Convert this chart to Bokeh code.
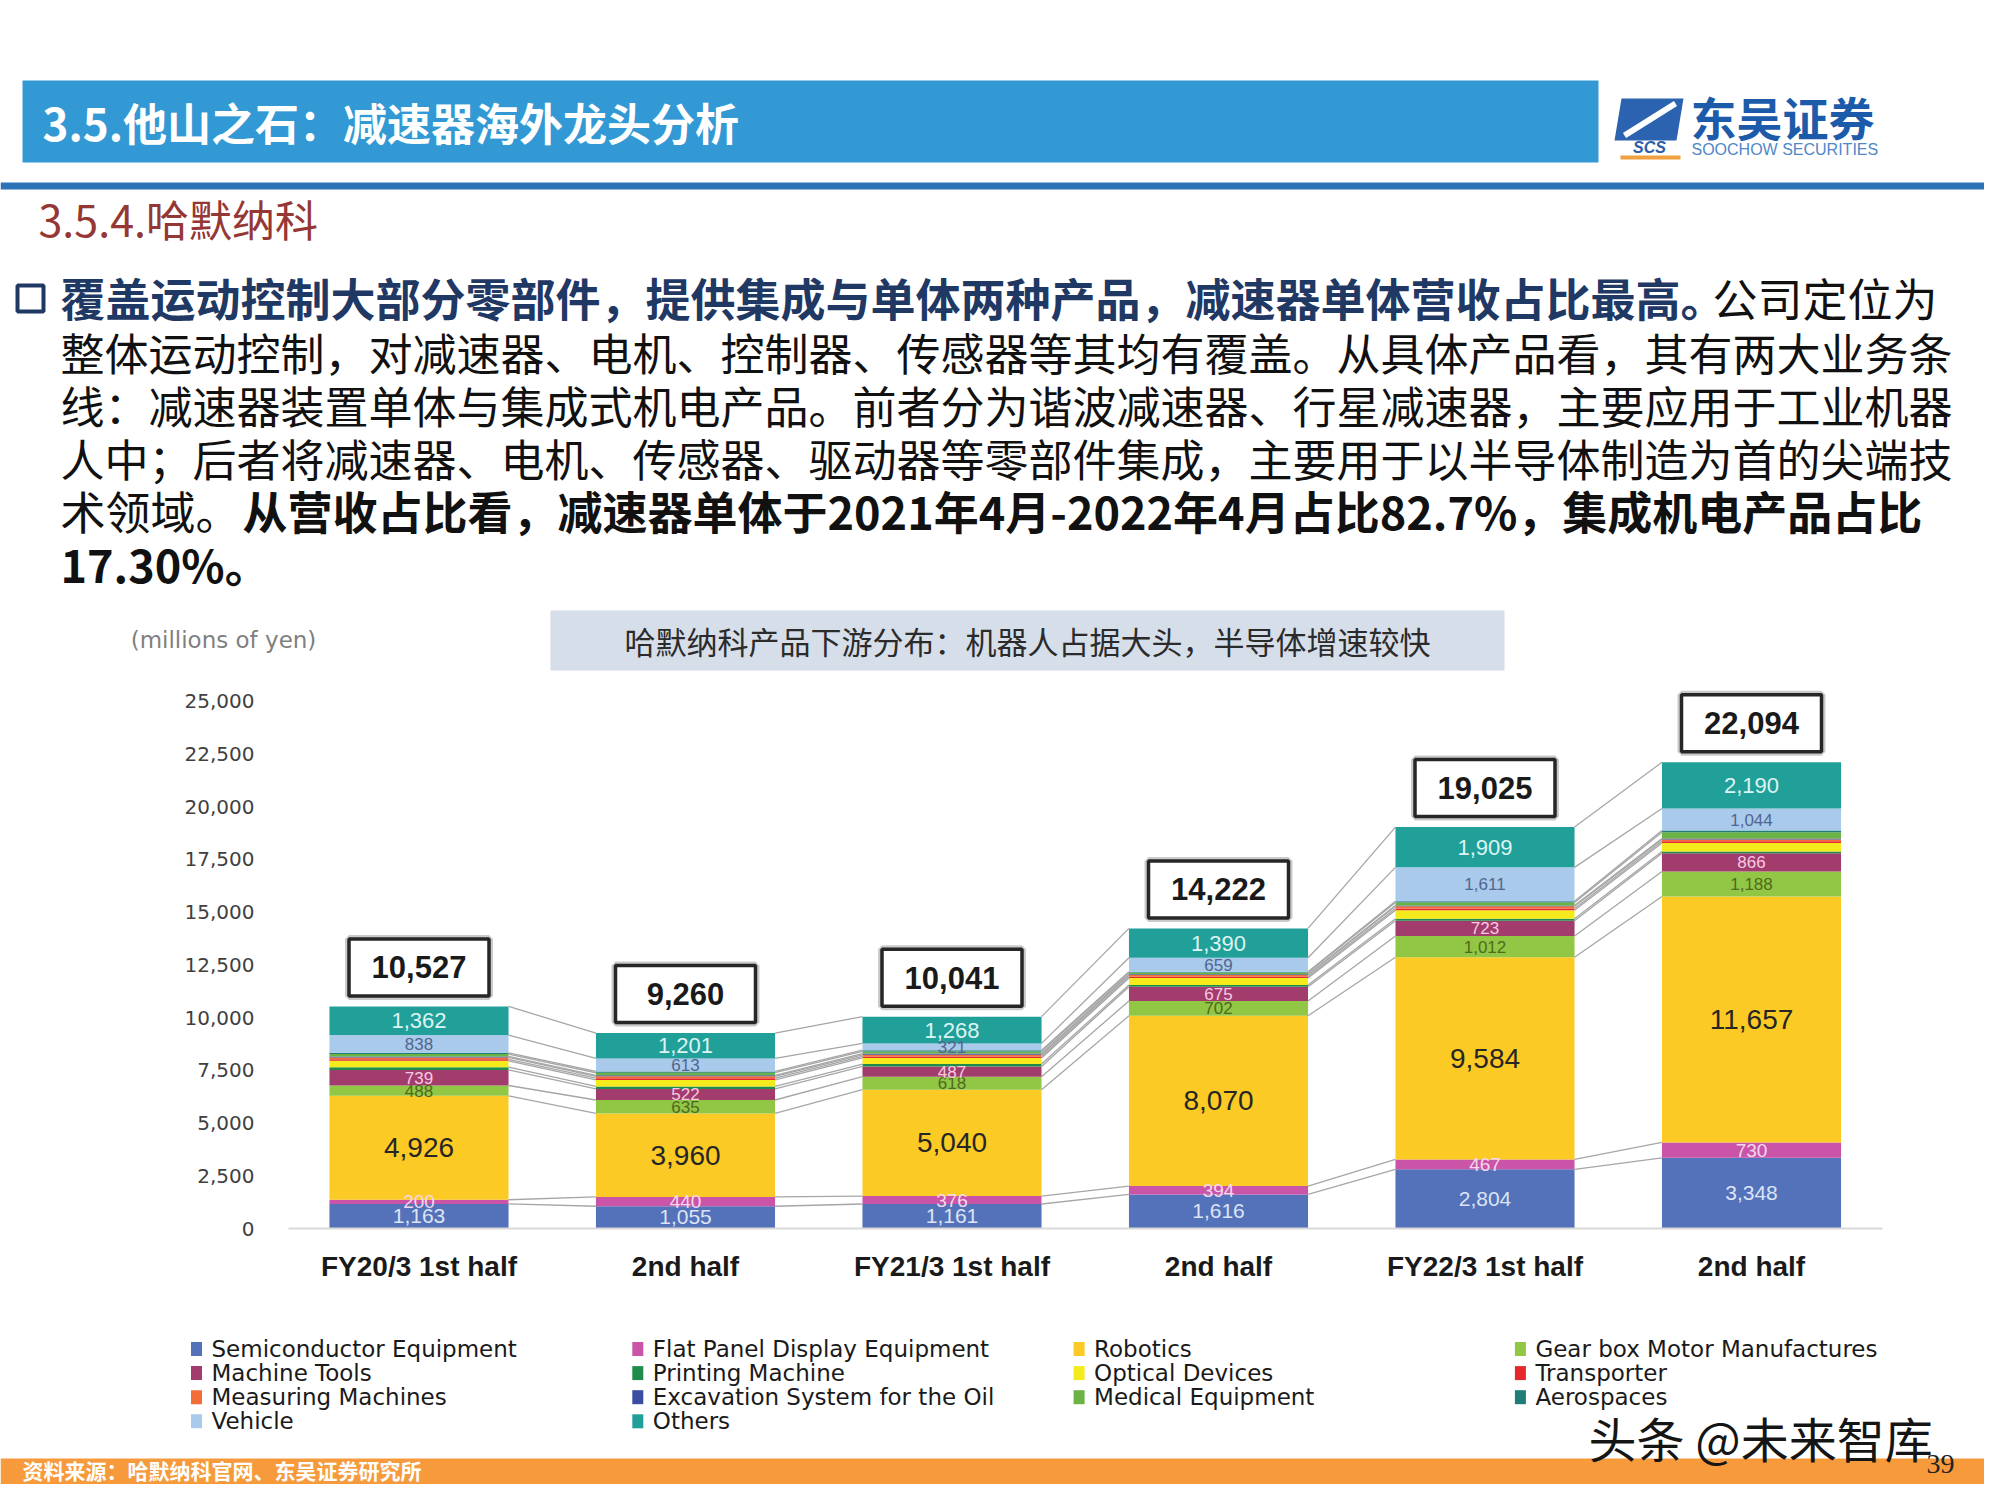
import numpy as np
from bokeh.plotting import figure
from bokeh.models import Range1d, LinearAxis, FixedTicker, NumeralTickFormatter, ColumnDataSource
from bokeh.core.properties import value
from bokeh.embed import file_html
from bokeh.resources import INLINE

# ---------------- data ----------------
periods = ["FY20/3 1st half", "2nd half", "FY21/3 1st half", "2nd half", "FY22/3 1st half", "2nd half"]
semiconductor = [1163, 1055, 1161, 1616, 2804, 3348]
flat_panel = [200, 440, 376, 394, 467, 730]
robotics = [4926, 3960, 5040, 8070, 9584, 11657]
gear_box = [488, 635, 618, 702, 1012, 1188]
machine_tools = [739, 522, 487, 675, 723, 866]
printing = [130, 120, 110, 80, 90, 80]
optical = [300, 310, 290, 330, 400, 400]
transporter = [70, 80, 70, 60, 90, 80]
measuring = [90, 90, 80, 90, 100, 90]
excavation = [50, 50, 60, 30, 35, 40]
medical = [110, 120, 100, 90, 150, 300]
aerospaces = [61, 64, 60, 36, 50, 81]
vehicle = [838, 613, 321, 659, 1611, 1044]
others = [1362, 1201, 1268, 1390, 1909, 2190]
totals = [10527, 9260, 10041, 14222, 19025, 22094]

categories = ["Semiconductor Equipment", "Flat Panel Display Equipment", "Robotics",
              "Gear box Motor Manufactures", "Machine Tools", "Printing Machine",
              "Optical Devices", "Transporter", "Measuring Machines",
              "Excavation System for the Oil", "Medical Equipment", "Aerospaces",
              "Vehicle", "Others"]
series = [semiconductor, flat_panel, robotics, gear_box, machine_tools, printing, optical,
          transporter, measuring, excavation, medical, aerospaces, vehicle, others]
colors = ["#5472B9", "#CA55A8", "#FCCA24", "#92C645", "#A23C6C", "#1F8C4B", "#F4EA1C",
          "#E5282E", "#F26D38", "#3A4DA0", "#6CB346", "#1E7E77", "#A9CAEB", "#21A09A"]
y_ticks = [0, 2500, 5000, 7500, 10000, 12500, 15000, 17500, 20000, 22500, 25000]

# labelled segments: category index -> (font size, colour)
label_style = {0: ("21px", "#DCE4F5"), 1: ("19px", "#F5D8EC"), 2: ("28px", "#262626"),
               3: ("17px", "#4E6A1E"), 4: ("17px", "#F9C9E3"), 12: ("17px", "#53658F"),
               13: ("22px", "#DDF4F2")}

# ---------------- geometry (pixels of the slide picture) ----------------
W, H = 1984, 1484
X0_PX, STEP_PX = 418.5, 266.5          # centre of first bar, distance between bars
Y0_PX, PX_PER_UNIT = 1228.0, 527.5 / 25000.0
BAR_W = 0.672

x_start = (0 - X0_PX) / STEP_PX
x_end = (W - X0_PX) / STEP_PX
y_start = (Y0_PX - H) / PX_PER_UNIT
y_end = Y0_PX / PX_PER_UNIT

p = figure(width=W, height=H, output_backend="svg", toolbar_location=None,
           x_range=Range1d(x_start, x_end), y_range=Range1d(y_start, y_end),
           x_axis_location=None, y_axis_location=None, min_border=0,
           outline_line_color=None, background_fill_color="white", border_fill_color="white")
p.grid.visible = False
p.extra_x_ranges = {"px": Range1d(0, W)}
p.extra_y_ranges = {"py": Range1d(H, 0)}

CJK = "Noto Sans CJK SC"


def txt(x, y, s, size, color, bold=False, font=CJK, align="left", baseline="middle", italic=False):
    style = "bold" if bold else "normal"
    if italic:
        style = "bold italic" if bold else "italic"
    p.text(x=[x], y=[y], text=[s], x_range_name="px", y_range_name="py",
           text_font=value(font), text_font_size=size, text_color=color,
           text_font_style=style, text_align=align, text_baseline=baseline)


def box(l, r, t, b, fill, line=None, lw=1):
    p.quad(left=[l], right=[r], top=[t], bottom=[b], x_range_name="px", y_range_name="py",
           fill_color=fill, line_color=line, line_width=lw)


# ---------------- slide decoration ----------------
box(22, 1598, 80, 162, "#3399D4")
txt(42, 121, "3.5.他山之石：减速器海外龙头分析", "44px", "white", bold=True)

# logo
p.patch(x=[1621, 1683, 1676, 1614], y=[98, 98, 140, 140], x_range_name="px", y_range_name="py",
        fill_color="#2C63B0", line_color=None)
p.line(x=[1624, 1675], y=[135, 103], x_range_name="px", y_range_name="py", line_color="white", line_width=6)
p.line(x=[1640, 1662], y=[134, 118], x_range_name="px", y_range_name="py", line_color="#2C63B0", line_width=3)
txt(1649, 147, "SCS", "16px", "#2C5DA8", bold=True, font="Liberation Sans", align="center", italic=True)
box(1620, 1680, 155, 159, "#F0A040")
txt(1690, 115, "东吴证券", "46px", "#1B5BAA", bold=True)
txt(1691, 149, "SOOCHOW SECURITIES", "16px", "#4F87C7", font="Liberation Sans")

box(0, W, 182, 189, "#2E72B8")
txt(38, 217, "3.5.4.哈默纳科", "43px", "#953735")

# bullet and body text
box(17, 43, 285, 311, "white", line="#1F3864", lw=4)
txt(60, 297, "覆盖运动控制大部分零部件，提供集成与单体两种产品，减速器单体营收占比最高。", "45px", "#1F3864", bold=True)
txt(1712, 297, "公司定位为", "45px", "#111111")
txt(60, 351, "整体运动控制，对减速器、电机、控制器、传感器等其均有覆盖。从具体产品看，其有两大业务条", "44px", "#111111")
txt(60, 404, "线：减速器装置单体与集成式机电产品。前者分为谐波减速器、行星减速器，主要应用于工业机器", "44px", "#111111")
txt(60, 457, "人中；后者将减速器、电机、传感器、驱动器等零部件集成，主要用于以半导体制造为首的尖端技", "44px", "#111111")
txt(60, 510, "术领域。", "45px", "#111111")
txt(242, 510, "从营收占比看，减速器单体于2021年4月-2022年4月占比82.7%，集成机电产品占比", "45px", "#111111", bold=True)
txt(60, 563, "17.30%。", "45px", "#111111", bold=True)

# chart title box
box(550, 1504, 610, 670, "#D6DEEA")
txt(1027, 640, "哈默纳科产品下游分布：机器人占据大头，半导体增速较快", "31px", "#2B2B2B", align="center")
txt(223, 639, "(millions of yen)", "23px", "#7F7F7F", font="DejaVu Sans", align="center")

# footer
box(0, W, 1458, H, "#F79A3C")
txt(22, 1469, "资料来源：哈默纳科官网、东吴证券研究所", "21px", "white", bold=True)
txt(1588, 1436, "头条 @未来智库", "48px", "#151515")
txt(1940, 1463, "39", "28px", "#222222", font="Liberation Serif", align="center")

# ---------------- chart ----------------
x = list(range(len(periods)))
keys = ["s%d" % i for i in range(len(series))]
data = {"x": x}
for k, s in zip(keys, series):
    data[k] = s
src = ColumnDataSource(data)
p.vbar_stack(stackers=keys, x="x", width=BAR_W, source=src, fill_color=colors, line_color=None)

arr = np.array(series, dtype=float)
cum = np.cumsum(arr, axis=0)
below = cum - arr

# connecting lines between neighbouring bars
x0s, y0s, x1s, y1s = [], [], [], []
for k in range(len(series)):
    for i in range(len(periods) - 1):
        x0s.append(i + BAR_W / 2)
        y0s.append(cum[k, i])
        x1s.append(i + 1 - BAR_W / 2)
        y1s.append(cum[k, i + 1])
p.segment(x0=x0s, y0=y0s, x1=x1s, y1=y1s, line_color="#A6A6A6", line_width=1.3)

# segment value labels
for k, (size, col) in label_style.items():
    p.text(x=x, y=list(below[k] + arr[k] / 2), text=["{:,}".format(v) for v in series[k]],
           text_font=value("Liberation Sans"), text_font_size=size, text_color=col,
           text_align="center", text_baseline="middle")

# total boxes
BOX_OFFSET = 39 / PX_PER_UNIT
box_y = [t + BOX_OFFSET for t in totals]
p.rect(x=x, y=box_y, width=140, height=57, width_units="screen", height_units="screen",
       fill_color="white", line_color="#A6A6A6", line_width=8, line_alpha=0.6)
p.rect(x=x, y=box_y, width=140, height=57, width_units="screen", height_units="screen",
       fill_color="white", line_color="#262626", line_width=3.5)
p.text(x=x, y=box_y, text=["{:,}".format(t) for t in totals], text_font=value("Liberation Sans"),
       text_font_size="31px", text_font_style="bold", text_color="#1A1A1A",
       text_align="center", text_baseline="middle")

# axes (fixed inside the frame)
yaxis = LinearAxis(fixed_location=(268 - X0_PX) / STEP_PX, ticker=FixedTicker(ticks=y_ticks),
                   formatter=NumeralTickFormatter(format="0,0"), axis_line_color=None,
                   major_tick_line_color=None, minor_tick_line_color=None,
                   major_label_standoff=8, major_label_text_font="DejaVu Sans",
                   major_label_text_font_size="20px", major_label_text_color="#404040")
p.add_layout(yaxis, "left")

xaxis = LinearAxis(fixed_location=0, ticker=FixedTicker(ticks=x),
                   major_label_overrides={i: lab for i, lab in enumerate(periods)},
                   bounds=(-0.49, 5.49), axis_line_color="#D9D9D9", axis_line_width=2,
                   major_tick_line_color=None, minor_tick_line_color=None,
                   major_label_standoff=16, major_label_text_font="Liberation Sans",
                   major_label_text_font_style="bold", major_label_text_font_size="28px",
                   major_label_text_color="#1A1A1A")
p.add_layout(xaxis, "below")

# legend (4 columns, row-major)
lx, ly, lt = [], [], []
for i, name in enumerate(categories):
    r, c = divmod(i, 4)
    lx.append(196 + 441.3 * c)
    ly.append(1348.5 + 24.1 * r)
    lt.append(name)
p.rect(x=lx, y=ly, width=11, height=14, width_units="screen", height_units="screen",
       x_range_name="px", y_range_name="py", fill_color=colors, line_color=None)
p.text(x=[v + 15 for v in lx], y=ly, text=lt, x_range_name="px", y_range_name="py",
       text_font=value("DejaVu Sans"), text_font_size="23px", text_color="#1A1A1A",
       text_align="left", text_baseline="middle")

open("out.html", "w").write(file_html(p, INLINE))
